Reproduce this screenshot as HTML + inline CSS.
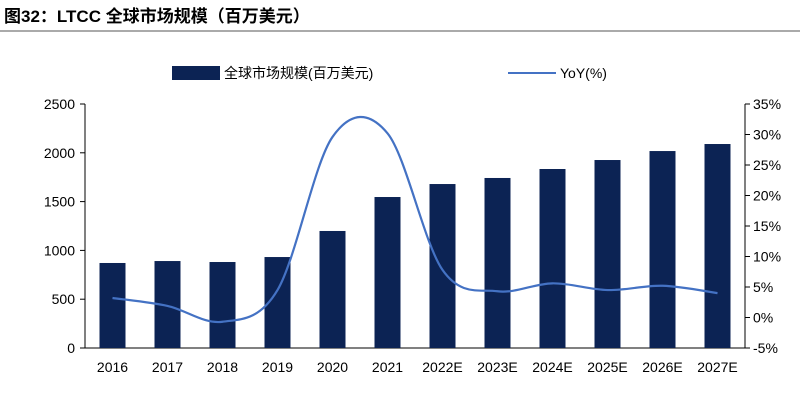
<!DOCTYPE html>
<html><head><meta charset="utf-8"><style>
body{margin:0;width:800px;height:400px;background:#fff;overflow:hidden;font-family:"Liberation Sans","Noto Sans CJK SC",sans-serif;}
</style></head><body>
<svg width="800" height="400" font-family="Liberation Sans, Noto Sans CJK SC, sans-serif">
<text x="4" y="22" font-size="17" font-weight="bold" fill="#000">图32：LTCC 全球市场规模（百万美元）</text>
<line x1="0" y1="31" x2="800" y2="31" stroke="#555" stroke-width="1"/>
<g>
<rect x="172" y="66" width="48" height="14" fill="#0c2354"/>
<text x="224" y="78" font-size="14">全球市场规模(百万美元)</text>
<line x1="508" y1="73" x2="556" y2="73" stroke="#4472c4" stroke-width="2"/>
<text x="560" y="78" font-size="14">YoY(%)</text>
</g>
<g id="plot"></g>
</svg>
<script>
const categories=["2016","2017","2018","2019","2020","2021","2022E","2023E","2024E","2025E","2026E","2027E"];
const marketSize=[871,891,881,932,1199,1547,1680,1742,1834,1926,2018,2090];
const yoy=[3.2,1.9,-0.7,4.5,29.6,30.2,7.8,4.3,5.6,4.5,5.2,4.0];
const leftTicks=[0,500,1000,1500,2000,2500];
const rightTicks=[-5,0,5,10,15,20,25,30,35];
const NS="http://www.w3.org/2000/svg";
const g=document.getElementById('plot');
const X0=85,X1=745,Y0=348,Y1=104;
const step=(X1-X0)/categories.length;
const xs=i=>X0+step*(i+0.5);
const yL=v=>Y0-(v/2500)*(Y0-Y1);
const yR=v=>Y0-((v+5)/40)*(Y0-Y1);
function mk(t,a){const e=document.createElementNS(NS,t);for(const k in a)e.setAttribute(k,a[k]);g.appendChild(e);return e;}
let ax=mk('line',{x1:X0,y1:Y1,x2:X0,y2:Y0,stroke:'#000'});

let ar=mk('line',{x1:X1,y1:Y1,x2:X1,y2:Y0,stroke:'#000'});

let ab=mk('line',{x1:X0,y1:Y0,x2:X1,y2:Y0,stroke:'#000'});

leftTicks.forEach(v=>{
 let l=mk('line',{x1:X0-5,x2:X0,y1:yL(v),y2:yL(v),stroke:'#000'});
 
 let t=mk('text',{x:X0-10,y:yL(v)+5,'text-anchor':'end','font-size':14});t.textContent=v;
 
});
rightTicks.forEach(v=>{
 let l=mk('line',{x1:X1,x2:X1+5,y1:yR(v),y2:yR(v),stroke:'#000'});
 
 let t=mk('text',{x:X1+8,y:yR(v)+5,'font-size':14});t.textContent=v+'%';
 
});
categories.forEach((c,i)=>{
 let r=mk('rect',{x:xs(i)-13,y:yL(marketSize[i]),width:26,height:Y0-yL(marketSize[i]),fill:'#0c2354'});
 
 let t=mk('text',{x:xs(i),y:Y0+24,'text-anchor':'middle','font-size':14});t.textContent=c;
 
});
const P=yoy.map((v,i)=>[xs(i),yR(v)]);
let d='M'+P[0][0]+','+P[0][1];
for(let i=0;i<P.length-1;i++){
 const p0=P[i-1]||P[i],p1=P[i],p2=P[i+1],p3=P[i+2]||p2;
 const c1=[p1[0]+(p2[0]-p0[0])/6,p1[1]+(p2[1]-p0[1])/6];
 const c2=[p2[0]-(p3[0]-p1[0])/6,p2[1]-(p3[1]-p1[1])/6];
 d+=` C${c1[0]},${c1[1]} ${c2[0]},${c2[1]} ${p2[0]},${p2[1]}`;
}
let ln=mk('path',{d:d,fill:'none',stroke:'#4472c4','stroke-width':2.2});

</script>
</body></html>
